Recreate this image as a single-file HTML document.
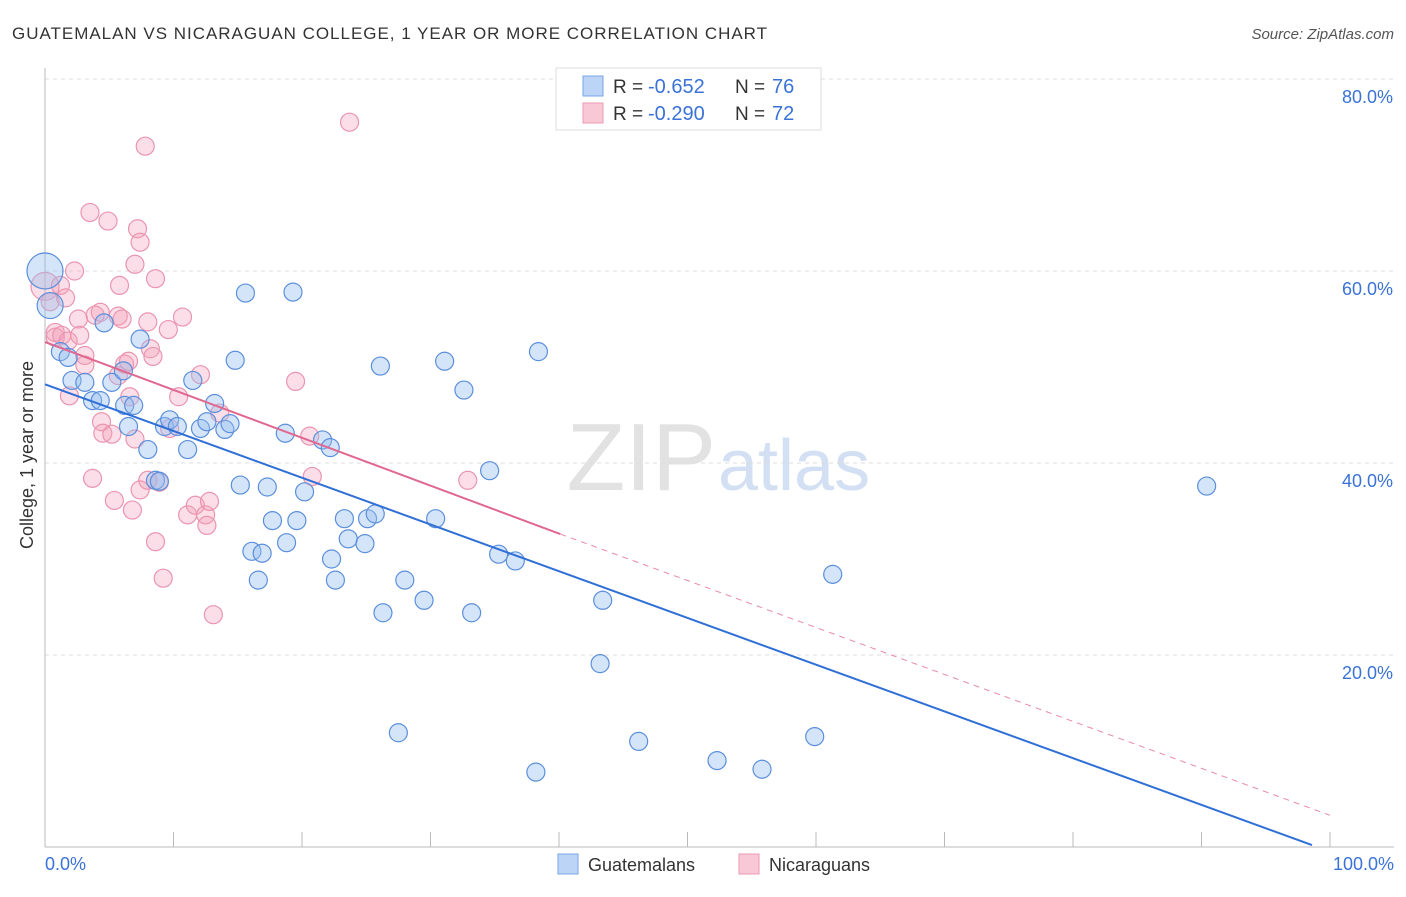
<!DOCTYPE html>
<html><head><meta charset="utf-8"><style>
body{margin:0;background:#fff;font-family:"Liberation Sans",sans-serif;}
svg text{font-family:"Liberation Sans",sans-serif;}
</style></head><body>
<svg id="c" width="1406" height="892">
<text x="12" y="39" font-size="17" fill="#333" textLength="755" lengthAdjust="spacing">GUATEMALAN VS NICARAGUAN COLLEGE, 1 YEAR OR MORE CORRELATION CHART</text>
<text x="1394" y="39" font-size="15" fill="#555" text-anchor="end" font-style="italic">Source: ZipAtlas.com</text>
<text x="33" y="455" font-size="18" fill="#333" text-anchor="middle" transform="rotate(-90 33 455)">College, 1 year or more</text>
<text x="716" y="490" font-size="96" fill="#e2e2e2" text-anchor="end" font-family="Liberation Serif">ZIP</text>
<text x="718" y="490" font-size="72" fill="#d3e0f3">atlas</text>
<g id="grid"></g><g id="pts"></g><g id="lines"></g>
<g>
<rect x="556" y="68" width="265" height="62" fill="#fff" stroke="#ddd"/>
<rect x="583" y="76" width="20" height="20" fill="#bcd4f5" stroke="#7aa6e6"/>
<rect x="583" y="103" width="20" height="20" fill="#f9c8d6" stroke="#ec9ab3"/>
<text x="613" y="93" font-size="19" fill="#333">R =</text>
<text x="648" y="93" font-size="20" fill="#3a72d8">-0.652</text>
<text x="735" y="93" font-size="19" fill="#333">N =</text>
<text x="772" y="93" font-size="20" fill="#3a72d8">76</text>
<text x="613" y="120" font-size="19" fill="#333">R =</text>
<text x="648" y="120" font-size="20" fill="#3a72d8">-0.290</text>
<text x="735" y="120" font-size="19" fill="#333">N =</text>
<text x="772" y="120" font-size="20" fill="#3a72d8">72</text>
</g>
<g>
<rect x="558" y="854" width="20" height="20" fill="#bcd4f5" stroke="#7aa6e6"/>
<text x="588" y="871" font-size="18" fill="#333">Guatemalans</text>
<rect x="739" y="854" width="20" height="20" fill="#f9c8d6" stroke="#ec9ab3"/>
<text x="769" y="871" font-size="18" fill="#333">Nicaraguans</text>
</g>
</svg>
<script>
const yTicks=[20,40,60,80];
const xTickLabels=["0.0%","100.0%"];
const blueX=[0,0.4,1.2,1.8,2.1,3.1,3.7,4.3,4.6,5.2,6.1,6.5,6.2,6.9,7.4,8.0,8.6,8.9,9.3,9.7,10.3,11.1,11.5,12.1,12.6,13.2,14.0,14.4,14.8,15.2,15.6,16.1,16.6,16.9,17.3,17.7,18.7,18.8,19.3,19.6,20.2,21.6,22.2,22.3,22.6,23.3,23.6,24.9,25.1,25.7,26.1,26.3,27.5,28.0,29.5,30.4,31.1,32.6,33.2,34.6,35.3,36.6,38.2,38.4,43.2,43.4,46.2,52.3,55.8,59.9,61.3,90.4];
const blueY=[60.0,56.4,51.6,51.0,48.6,48.4,46.5,46.5,54.6,48.4,49.6,43.8,46.0,46.0,52.9,41.4,38.2,38.1,43.8,44.5,43.8,41.4,48.6,43.6,44.3,46.2,43.5,44.1,50.7,37.7,57.7,30.8,27.8,30.6,37.5,34.0,43.1,31.7,57.8,34.0,37.0,42.4,41.6,30.0,27.8,34.2,32.1,31.6,34.2,34.7,50.1,24.4,11.9,27.8,25.7,34.2,50.6,47.6,24.4,39.2,30.5,29.8,7.8,51.6,19.1,25.7,11.0,9.0,8.1,11.5,28.4,37.6];
const pinkX=[0,0.4,0.8,0.8,1.2,1.6,1.3,1.8,1.9,2.3,2.6,2.7,3.1,3.1,3.5,3.7,3.9,4.3,4.4,4.5,4.9,5.2,5.4,5.7,5.7,5.8,6.0,6.2,6.5,6.6,6.8,7.0,7.2,7.4,7.0,7.4,7.8,8.0,8.0,8.2,8.4,8.6,8.6,8.9,9.2,9.6,9.7,10.4,10.7,11.1,11.7,12.1,12.5,12.6,12.8,13.1,13.6,19.5,20.6,20.8,23.7,32.9];
const pinkY=[58.4,56.8,53.1,53.6,58.5,57.2,53.3,52.7,47.0,60.0,55.0,53.3,51.2,50.2,66.1,38.4,55.4,55.7,44.3,43.1,65.2,43.0,36.1,49.1,55.3,58.5,55.0,50.3,50.6,46.9,35.1,42.5,64.4,63.0,60.7,37.2,73.0,38.2,54.7,51.9,51.1,31.8,59.2,38.0,28.0,53.9,43.6,46.9,55.2,34.6,35.6,49.2,34.6,33.5,36.0,24.2,45.2,48.5,42.8,38.6,75.5,38.2];
const X=v=>45+v*12.85, Y=v=>847-v*9.6;
const ns="http://www.w3.org/2000/svg";
const svg=document.getElementById('c');
function mk(t,a,p){const e=document.createElementNS(ns,t);for(const k in a)e.setAttribute(k,a[k]);(p||svg).appendChild(e);return e;}
const grid=document.getElementById('grid');
yTicks.forEach(t=>{
 const l=mk('line',{x1:45,x2:1394,y1:Y(t),y2:Y(t),stroke:'#ddd','stroke-dasharray':'4,4'},grid);
 
 
 const tx=mk('text',{x:1393,y:Y(t)+24,'font-size':18,fill:'#3a72d8','text-anchor':'end'},grid);
 tx.textContent=t.toFixed(1)+'%';
 
 
});
const ax=mk('line',{x1:45,x2:45,y1:68,y2:847,stroke:'#bbb'},grid);


const bx=mk('line',{x1:45,x2:1394,y1:847,y2:847,stroke:'#bbb'},grid);


for(let i=0;i<=10;i++){const t=mk('line',{x1:X(i*10),x2:X(i*10),y1:832,y2:847,stroke:'#bbb'},grid);
 
 }
[[0,'start',45],[100,'end',1394]].forEach((d,i)=>{const t=mk('text',{x:d[2],y:870,'font-size':18,fill:'#3a72d8','text-anchor':d[1]},grid);t.textContent=xTickLabels[i];
 
 });
const pts=document.getElementById('pts');
pinkX.forEach((x,i)=>{const c=mk('circle',{cx:X(x),cy:Y(pinkY[i]),r:i==0?14:9,fill:'rgba(244,160,185,0.35)',stroke:'#eb95b0','stroke-width':1.2},pts);
 
 });
blueX.forEach((x,i)=>{const c=mk('circle',{cx:X(x),cy:Y(blueY[i]),r:i==0?18:(i==1?13:9),fill:'rgba(150,190,240,0.4)',stroke:'#5b8fdc','stroke-width':1.2},pts);
 
 });
const lg=document.getElementById('lines');
const bl=mk('line',{x1:X(0),y1:Y(48.2),x2:X(98.6),y2:Y(0.2),stroke:'#2f6fd6','stroke-width':2},lg);


const pl=mk('line',{x1:X(0),y1:Y(52.6),x2:X(40.1),y2:Y(32.6),stroke:'#e06890','stroke-width':2},lg);


const pd=mk('line',{x1:X(40.1),y1:Y(32.6),x2:X(100),y2:Y(3.3),stroke:'#e88aa8','stroke-width':1,'stroke-dasharray':'6,5'},lg);


</script>
</body></html>
